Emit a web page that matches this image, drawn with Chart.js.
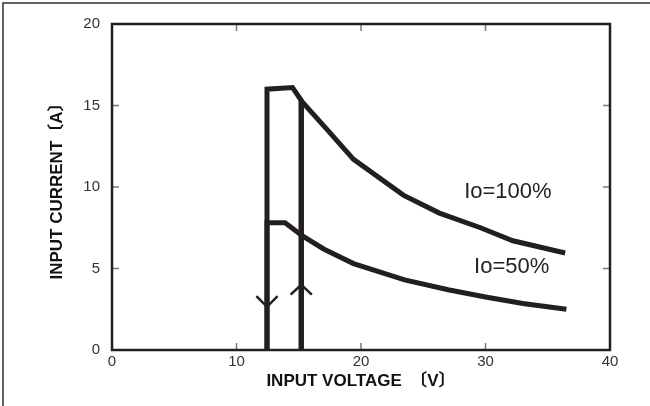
<!DOCTYPE html>
<html>
<head>
<meta charset="utf-8">
<script src="https://cdn.jsdelivr.net/npm/chart.js@4"></script>
<style>
  html, body { margin: 0; padding: 0; background: #fff; }
  #wrap { width: 650px; height: 406px; }
</style>
</head>
<body>
<div id="wrap"><canvas id="myChart" width="650" height="406"></canvas></div>
<script>
// values
const seriesLabels = ["Io=100%", "Io=50%"];

const full_x = [12.45, 12.45, 14.5, 15.3, 17.3, 19.4, 23.4, 26.3, 29.6, 32.2, 36.4];
const full_y = [0, 16.0, 16.1, 15.2, 13.5, 11.7, 9.5, 8.4, 7.5, 6.7, 5.95];

const half_x = [12.45, 12.45, 13.9, 15.3, 17.0, 19.4, 23.5, 27.0, 30.0, 33.0, 36.5];
const half_y = [0, 7.8, 7.8, 7.0, 6.2, 5.3, 4.3, 3.7, 3.25, 2.85, 2.5];

const start_x = [15.2, 15.2];
const start_y = [0, 15.3];

const down_x = [11.6, 12.45, 13.3];
const down_y = [3.3, 2.65, 3.3];
const up_x = [14.35, 15.2, 16.05];
const up_y = [3.4, 4.0, 3.4];

const xTicks = [0, 10, 20, 30, 40];
const yTicks = [0, 5, 10, 15, 20];

const labelAt = [[31.8, 9.7], [32.1, 5.1]];

const ink = "#231f20";

function toPoints(xs, ys) {
    return xs.map((x, i) => ({ x: x, y: ys[i] }));
}

function lineSet(xs, ys, width) {
    return {
        data: toPoints(xs, ys),
        borderColor: ink,
        borderWidth: width,
        pointRadius: 0,
        tension: 0,
        borderJoinStyle: "miter",
        borderCapStyle: "butt",
        fill: false,
    };
}

// frame, inward ticks, curve labels, page border
const decorations = {
    id: "decorations",
    afterDraw(chart) {
        const { ctx, chartArea: a, scales } = chart;
        ctx.save();

        ctx.strokeStyle = "#7a7a7a";
        ctx.lineWidth = 1.5;
        ctx.beginPath();
        yTicks.slice(1, -1).forEach((v) => {
            const y = scales.y.getPixelForValue(v);
            ctx.moveTo(a.left, y); ctx.lineTo(a.left + 7, y);
            ctx.moveTo(a.right, y); ctx.lineTo(a.right - 7, y);
        });
        xTicks.slice(1, -1).forEach((v) => {
            const x = scales.x.getPixelForValue(v);
            ctx.moveTo(x, a.bottom); ctx.lineTo(x, a.bottom - 7);
            ctx.moveTo(x, a.top); ctx.lineTo(x, a.top + 7);
        });
        ctx.stroke();

        ctx.strokeStyle = ink;
        ctx.lineWidth = 2.5;
        ctx.strokeRect(a.left, a.top, a.right - a.left, a.bottom - a.top);

        ctx.strokeStyle = "#333";
        ctx.lineWidth = 1.5;
        ctx.beginPath();
        ctx.moveTo(3, 406); ctx.lineTo(3, 3); ctx.lineTo(650, 3);
        ctx.stroke();

        ctx.fillStyle = "#222";
        ctx.font = '22px "Liberation Sans", Arial, sans-serif';
        ctx.textAlign = "center";
        ctx.textBaseline = "middle";
        seriesLabels.forEach((t, i) => {
            ctx.fillText(t,
                scales.x.getPixelForValue(labelAt[i][0]),
                scales.y.getPixelForValue(labelAt[i][1]));
        });
        ctx.restore();
    },
};

const tickFont = { family: '"Liberation Sans", Arial, sans-serif', size: 15 };
const titleFont = { family: '"Liberation Sans", Arial, "Noto Sans CJK JP", sans-serif', size: 17, weight: "bold" };

const config = {
    type: "line",
    data: {
        datasets: [
            lineSet(full_x, full_y, 5),
            lineSet(half_x, half_y, 5),
            lineSet(start_x, start_y, 5.5),
            lineSet(down_x, down_y, 2.5),
            lineSet(up_x, up_y, 2.5),
        ],
    },
    options: {
        responsive: false,
        animation: false,
        layout: { padding: { top: 24, right: 40, left: 0, bottom: 0 } },
        plugins: { legend: { display: false }, tooltip: { enabled: false } },
        scales: {
            x: {
                type: "linear",
                min: 0,
                max: 40,
                afterFit: (s) => { s.height = 56; },
                grid: { display: false, tickLength: 0 },
                border: { display: false },
                ticks: {
                    stepSize: 10,
                    padding: 3,
                    color: "#333",
                    font: tickFont,
                    maxRotation: 0,
                },
                title: {
                    display: true,
                    text: "INPUT VOLTAGE　〔V〕",
                    color: "#111",
                    font: titleFont,
                    padding: { top: 0, bottom: 14 },
                },
            },
            y: {
                min: 0,
                max: 20,
                afterFit: (s) => { s.width = 112; },
                grid: { display: false, tickLength: 0 },
                border: { display: false },
                ticks: {
                    stepSize: 5,
                    padding: 12,
                    color: "#333",
                    font: tickFont,
                },
                title: {
                    display: true,
                    text: "INPUT CURRENT〔A〕",
                    color: "#111",
                    font: titleFont,
                    padding: { top: 47, bottom: 0 },
                },
            },
        },
    },
    plugins: [decorations],
};

new Chart(document.getElementById("myChart").getContext("2d"), config);
</script>
</body>
</html>
